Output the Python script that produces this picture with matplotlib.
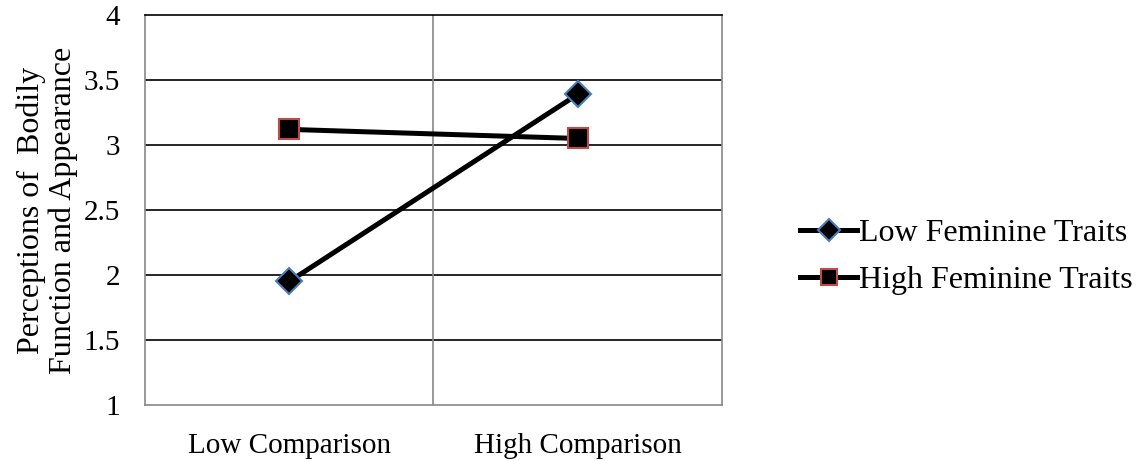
import matplotlib
matplotlib.use("Agg")
import matplotlib.pyplot as plt

categories = ["Low Comparison", "High Comparison"]
low_feminine = [1.95, 3.39]
high_feminine = [3.12, 3.05]
series_names = ["Low Feminine Traits", "High Feminine Traits"]

plt.rcParams['font.family'] = ['Liberation Serif', 'DejaVu Serif']

fig = plt.figure(figsize=(11.45, 4.61), dpi=100)
ax = fig.add_axes([0.1266, 0.1215, 0.5040, 0.846])

x = list(range(len(categories)))
ax.plot(x, low_feminine, color='black', lw=3.6, marker='D', ms=13,
        mfc='black', mec='#4a7ebb', mew=1.5, label=series_names[0], zorder=3)
ax.plot(x, high_feminine, color='black', lw=3.6, marker='s', ms=14,
        mfc='black', mec='#be4b48', mew=1.5, label=series_names[1], zorder=3)

ax.set_xlim(-0.5, len(categories) - 0.5)
ax.set_ylim(1, 4)
ax.set_yticks([1, 1.5, 2, 2.5, 3, 3.5, 4])
ax.set_yticklabels(["1", "1.5", "2", "2.5", "3", "3.5", "4"])
ax.set_xticks(x)
ax.set_xticklabels(categories)
ax.tick_params(axis='both', length=0, labelsize=21)
ax.tick_params(axis='y', pad=18)
ax.tick_params(axis='x', pad=20)

for yv in [1.5, 2, 2.5, 3, 3.5]:
    ax.axhline(yv, color='black', lw=1.2, zorder=1)
ax.axvline(0.5, color='#888888', lw=1.2, zorder=1)

for side in ['left', 'bottom', 'right']:
    ax.spines[side].set_color('#888888')
    ax.spines[side].set_linewidth(1.2)
ax.spines['top'].set_color('black')
ax.spines['top'].set_linewidth(1.2)

ax.set_ylabel("Perceptions of  Bodily\nFunction and Appearance", fontsize=23, labelpad=4, linespacing=1.1)

ax.legend(loc='center left', bbox_to_anchor=(1.085, 0.38), frameon=False, fontsize=23,
          handlelength=1.8, handletextpad=0.05, labelspacing=0.55, markerscale=0.85)

fig.savefig("out.png", dpi=100)
